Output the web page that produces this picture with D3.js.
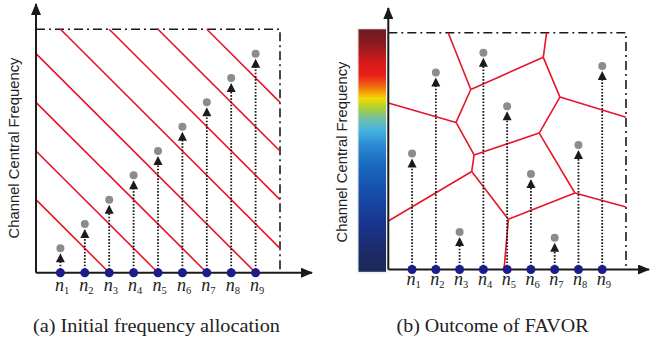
<!DOCTYPE html>
<html>
<head>
<meta charset="utf-8">
<script src="https://cdn.jsdelivr.net/npm/d3@7"></script>
<style>
  body { margin: 0; background: #fff; }
  svg { display: block; }
</style>
</head>
<body>
<div id="chart"></div>
<script>
// node positions along the x axis (same in both panels)
const nodeIndex = [1, 2, 3, 4, 5, 6, 7, 8, 9];
const nodeLabels = ["1", "2", "3", "4", "5", "6", "7", "8", "9"];

// channel frequency of each node (grey dots)
const freqInitial = [1, 2, 3, 4, 5, 6, 7, 8, 9];
const freqFavor = [4.9, 8.32, 1.58, 9.15, 6.89, 4.03, 1.34, 5.26, 8.59];

// (a) diagonal red bands: lines x + y = c
const bandSums = [3, 5, 7, 9, 11, 13, 15, 17];

// (b) red cell boundaries, vertices in data units
const cellVertices = {
  A: [2.52, 10], B: [3.47, 7.60], C: [6.52, 8.96], D: [6.66, 10],
  E: [7.22, 7.28], F: [10, 6.43], G: [2.85, 6.21], H: [0, 7.03],
  I: [3.61, 4.84], J: [3.51, 4.14], K: [6.35, 5.76], L: [0, 2.05],
  M: [5.05, 2.12], N: [4.87, 0], O: [7.85, 3.23], P: [10, 2.64]
};
const cellEdges = [
  ["A", "B"], ["B", "C"], ["C", "D"], ["C", "E"], ["E", "F"], ["B", "G"],
  ["G", "H"], ["G", "I"], ["I", "J"], ["I", "K"], ["K", "E"], ["J", "L"],
  ["J", "M"], ["M", "N"], ["M", "O"], ["O", "K"], ["O", "P"]
];

// colour bar stops (offset from top, colour)
const barStops = [
  [0.00, "#6a1c22"], [0.06, "#8e1a1e"], [0.14, "#d81a1c"], [0.19, "#e8201a"],
  [0.23, "#f06012"], [0.26, "#f4a008"], [0.285, "#f2dc04"], [0.32, "#b4d02a"],
  [0.37, "#70c0a8"], [0.42, "#44b0e2"], [0.48, "#2c88d2"], [0.55, "#1a6cc0"],
  [0.66, "#1650ac"], [0.80, "#1a3490"], [0.92, "#1c2a66"], [1.00, "#1c2a58"]
];

const yTitle = "Channel Central Frequency";
const captions = ["(a) Initial frequency allocation", "(b) Outcome of FAVOR"];

const W = 651, H = 346;
const red = "#e8142a", ink = "#1a1a1a", navy = "#1c1c8c", grey = "#8c8c8c";

const svg = d3.select("#chart").append("svg")
  .attr("width", W).attr("height", H);

const defs = svg.append("defs");
defs.append("marker")
  .attr("id", "axisArrow")
  .attr("viewBox", "0 0 12 10")
  .attr("refX", 11).attr("refY", 5)
  .attr("markerWidth", 12).attr("markerHeight", 10)
  .attr("markerUnits", "userSpaceOnUse")
  .attr("orient", "auto")
  .append("path").attr("d", "M0,0 L12,5 L0,10 Z").attr("fill", ink);

function drawPanel(p) {
  const x = d3.scaleLinear().domain([0, 10]).range([p.x0, p.x1]);
  const y = d3.scaleLinear().domain([0, 10]).range([p.y0, p.y1]);
  const g = svg.append("g");

  // dash-dot frame
  g.append("path")
    .attr("d", `M${x(0)},${y(10)} H${x(10)} V${y(0)}`)
    .attr("fill", "none").attr("stroke", ink)
    .attr("stroke-width", 1.6)
    .attr("stroke-dasharray", "9,4,2,4");

  // red partition lines
  g.append("g").selectAll("line")
    .data(p.segments)
    .join("line")
    .attr("x1", d => x(d[0][0])).attr("y1", d => y(d[0][1]))
    .attr("x2", d => x(d[1][0])).attr("y2", d => y(d[1][1]))
    .attr("stroke", red).attr("stroke-width", 1.6);

  // axes with arrows
  g.append("line")
    .attr("x1", x(0)).attr("y1", y(0))
    .attr("x2", x(0)).attr("y2", p.yTip)
    .attr("stroke", ink).attr("stroke-width", 2)
    .attr("marker-end", "url(#axisArrow)");
  g.append("line")
    .attr("x1", x(0)).attr("y1", y(0))
    .attr("x2", p.xTip).attr("y2", y(0))
    .attr("stroke", ink).attr("stroke-width", 2)
    .attr("marker-end", "url(#axisArrow)");

  const pts = nodeIndex.map((n, i) => ({n: n, f: p.freq[i], lab: nodeLabels[i]}));

  // dotted lifts
  g.append("g").selectAll("line")
    .data(pts)
    .join("line")
    .attr("x1", d => x(d.n)).attr("y1", y(0))
    .attr("x2", d => x(d.n)).attr("y2", d => y(d.f) + 12)
    .attr("stroke", ink).attr("stroke-width", 1.8)
    .attr("stroke-dasharray", "1.6,1.6");

  // arrow heads
  g.append("g").selectAll("path")
    .data(pts)
    .join("path")
    .attr("d", d => {
      const cx = x(d.n), ty = y(d.f) + 5;
      return `M${cx},${ty} L${cx + 4.5},${ty + 9} L${cx - 4.5},${ty + 9} Z`;
    })
    .attr("fill", ink);

  // grey channel dots
  g.append("g").selectAll("circle")
    .data(pts)
    .join("circle")
    .attr("cx", d => x(d.n)).attr("cy", d => y(d.f))
    .attr("r", 4).attr("fill", grey);

  // nodes on the axis
  g.append("g").selectAll("circle")
    .data(pts)
    .join("circle")
    .attr("cx", d => x(d.n)).attr("cy", y(0))
    .attr("r", 4.5).attr("fill", navy);

  // node labels n_i
  const lab = g.append("g").selectAll("text")
    .data(pts)
    .join("text")
    .attr("x", d => x(d.n) - 5.5)
    .attr("y", p.labelY)
    .attr("font-family", "'Liberation Serif', serif")
    .attr("fill", "#222");
  lab.append("tspan")
    .attr("font-style", "italic").attr("font-size", 18)
    .text("n");
  lab.append("tspan")
    .attr("font-size", 10.5).attr("dy", 3)
    .text(d => d.lab);

  // y title
  g.append("text")
    .attr("transform", `translate(${p.titleX},${p.titleY}) rotate(-90)`)
    .attr("text-anchor", "middle")
    .attr("font-family", "'Liberation Sans', Arial, sans-serif")
    .attr("font-size", 14.8)
    .attr("fill", "#222")
    .text(yTitle);

  // caption
  g.append("text")
    .attr("x", p.capX).attr("y", 332)
    .attr("text-anchor", "middle")
    .attr("font-family", "'Liberation Serif', serif")
    .attr("font-size", 18)
    .attr("textLength", p.capLen)
    .attr("lengthAdjust", "spacingAndGlyphs")
    .attr("fill", "#222")
    .text(p.caption);
}

// segments for panel (a): clip x + y = c to the 10 x 10 box
const bandSegments = bandSums.map(c => [
  [Math.max(0, c - 10), Math.min(c, 10)],
  [Math.min(c, 10), Math.max(0, c - 10)]
]);
const cellSegments = cellEdges.map(e => [cellVertices[e[0]], cellVertices[e[1]]]);

drawPanel({
  x0: 36, x1: 280, y0: 272.7, y1: 29.3,
  yTip: 4, xTip: 312,
  freq: freqInitial, segments: bandSegments,
  labelY: 291, titleX: 18.5, titleY: 148,
  capX: 156.5, capLen: 247, caption: captions[0]
});

// colour bar for panel (b)
const grad = defs.append("linearGradient")
  .attr("id", "freqGrad")
  .attr("x1", 0).attr("y1", 0).attr("x2", 0).attr("y2", 1);
grad.selectAll("stop")
  .data(barStops)
  .join("stop")
  .attr("offset", d => d[0])
  .attr("stop-color", d => d[1]);
svg.append("rect")
  .attr("x", 357).attr("y", 28).attr("width", 30.5).attr("height", 245.5)
  .attr("fill", "#eef0f2");
svg.append("rect")
  .attr("x", 358.5).attr("y", 29.3).attr("width", 27.5).attr("height", 242.5)
  .attr("fill", "url(#freqGrad)");

drawPanel({
  x0: 388.3, x1: 626, y0: 269.5, y1: 32.7,
  yTip: 8, xTip: 649,
  freq: freqFavor, segments: cellSegments,
  labelY: 285, titleX: 346.5, titleY: 152,
  capX: 492.5, capLen: 192, caption: captions[1]
});
</script>
</body>
</html>
